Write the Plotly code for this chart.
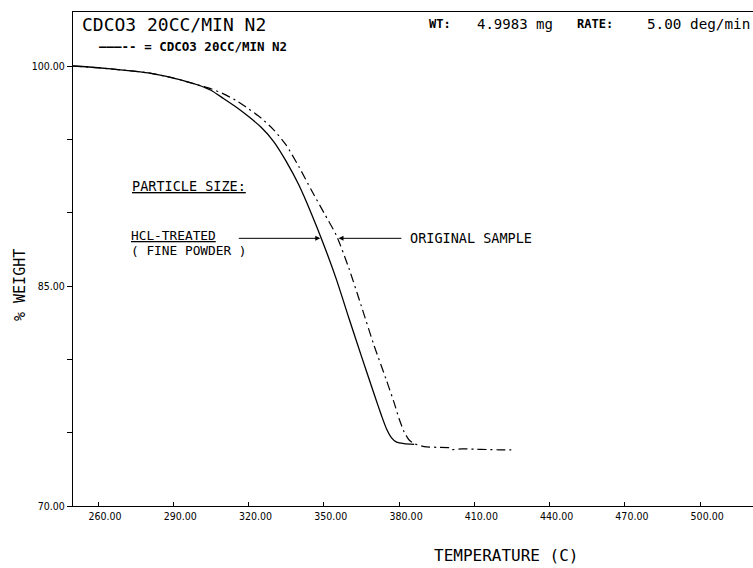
import numpy as np
import plotly.graph_objects as go

# ---------------- data ----------------
temp_hcl = [250, 260, 270, 280, 290, 300, 305, 310, 315, 320, 325, 330, 335, 340,
            345, 350, 355, 360, 365, 370, 373, 375, 377, 379, 382, 386]
weight_hcl = [100.0, 99.88, 99.72, 99.53, 99.18, 98.70, 98.35, 97.78, 97.2, 96.55,
              95.82, 94.85, 93.5, 91.9, 89.95, 87.8, 85.45, 82.8, 80.2, 77.65,
              76.15, 75.25, 74.65, 74.35, 74.25, 74.2]

temp_orig = [250, 260, 270, 280, 290, 300, 305, 310, 315, 320, 325, 330, 335, 340,
             345, 350, 355, 360, 365, 370, 375, 378, 380, 382, 384, 386, 390, 395,
             400, 401, 405, 410, 415, 420, 426]
weight_orig = [100.0, 99.88, 99.72, 99.53, 99.18, 98.70, 98.45, 98.1, 97.65, 97.08,
               96.45, 95.65, 94.6, 93.15, 91.55, 90.0, 88.45, 86.2, 83.6, 80.95,
               78.55, 77.05, 75.95, 75.05, 74.5, 74.25, 74.05, 74.0, 73.97, 73.85,
               73.9, 73.87, 73.85, 73.83, 73.82]

x_ticks = [260, 290, 320, 350, 380, 410, 440, 470, 500]
x_ticklabels = ["260.00", "290.00", "320.00", "350.00", "380.00", "410.00",
                "440.00", "470.00", "500.00"]
y_ticks = [70, 75, 80, 85, 90, 95, 100]
y_ticklabels = ["70.00", "", "", "85.00", "", "", "100.00"]

arrow_level = 88.25  # % weight where the two arrows point

# ---------------- figure ----------------
W, H = 753, 568
L, R, T, B = 73, 0, 12, 62
pw, ph = W - L - R, H - T - B


def px(xp):
    return (xp - L) / pw


def py(yp):
    return (H - B - yp) / ph


MONO = "DejaVu Sans Mono"
NARROW = "Liberation Sans Narrow, DejaVu Sans Condensed, Arial Narrow, sans-serif"

fig = go.Figure()
fig.add_trace(go.Scatter(x=temp_hcl, y=weight_hcl, mode="lines",
                         line=dict(color="black", width=1.3, shape="spline",
                                   smoothing=0.6),
                         name="HCL-TREATED", showlegend=False))
fig.add_trace(go.Scatter(x=temp_orig, y=weight_orig, mode="lines",
                         line=dict(color="black", width=1.2, dash="9px,4px,2px,4px",
                                   shape="spline", smoothing=0.6),
                         name="ORIGINAL SAMPLE", showlegend=False))

# arrow heads located on the curves
head_hcl = float(np.interp(arrow_level, weight_hcl[::-1], temp_hcl[::-1]))
head_orig = float(np.interp(arrow_level, weight_orig[::-1], temp_orig[::-1]))

ann = []


def text(s, x, y, size, bold=False, xanchor="left", angle=0):
    if bold:
        s = "<b>" + s + "</b>"
    ann.append(dict(text=s, x=x, y=y, xref="paper", yref="paper",
                    xanchor=xanchor, yanchor="middle", showarrow=False,
                    textangle=angle,
                    font=dict(family=MONO, size=size, color="black")))


text("CDCO3 20CC/MIN N2", px(80), py(24), 18)
text("———-- = CDCO3 20CC/MIN N2", px(97), py(47), 12.5, bold=True)
text("WT:", px(427), py(24), 12, bold=True)
text("4.9983 mg", px(475), py(24), 14)
text("RATE:", px(575), py(24), 12, bold=True)
text("5.00 deg/min", px(645), py(24), 14.3)
text("<u>PARTICLE SIZE:</u>", px(130), py(186), 13.5)
text("<u>HCL-TREATED</u>", px(129), py(236), 12.8)
text("( FINE POWDER )", px(129), py(250), 12.8)
text("ORIGINAL SAMPLE", px(408), py(238), 13.5)
text("% WEIGHT", px(20), py(285), 15, xanchor="center", angle=-90)
text("TEMPERATURE (C)", px(506), py(555), 16, xanchor="center")

ann.append(dict(x=head_hcl, y=arrow_level, ax=315.5, ay=arrow_level,
                xref="x", yref="y", axref="x", ayref="y", text="",
                showarrow=True, arrowhead=2, arrowsize=1, arrowwidth=1,
                arrowcolor="black", standoff=1))
ann.append(dict(x=head_orig, y=arrow_level, ax=381.5, ay=arrow_level,
                xref="x", yref="y", axref="x", ayref="y", text="",
                showarrow=True, arrowhead=2, arrowsize=1, arrowwidth=1,
                arrowcolor="black", standoff=1))

x_min = 250
x_max = 260 + (W - L - (97.7 - L)) / 2.51
y_max = 100 + (66 - T) / (440 / 30)

fig.update_layout(
    width=W, height=H,
    margin=dict(l=L, r=R, t=T, b=B, pad=0),
    paper_bgcolor="white", plot_bgcolor="white",
    showlegend=False,
    annotations=ann,
    xaxis=dict(range=[x_min, x_max], tickvals=x_ticks, ticktext=x_ticklabels,
               showgrid=False, zeroline=False, showline=True, mirror=True,
               linecolor="black", linewidth=1.3,
               ticks="inside", ticklen=4, tickcolor="black",
               ticklabelshift=7,
               tickfont=dict(family=NARROW, size=10.5, color="black")),
    yaxis=dict(range=[70, y_max], tickvals=y_ticks, ticktext=y_ticklabels,
               showgrid=False, zeroline=False, showline=True, mirror=False,
               linecolor="black", linewidth=1.3,
               ticks="outside", ticklen=5, tickcolor="black",
               tickfont=dict(family=NARROW, size=10.5, color="black")),
)

fig.write_html("out.html")
